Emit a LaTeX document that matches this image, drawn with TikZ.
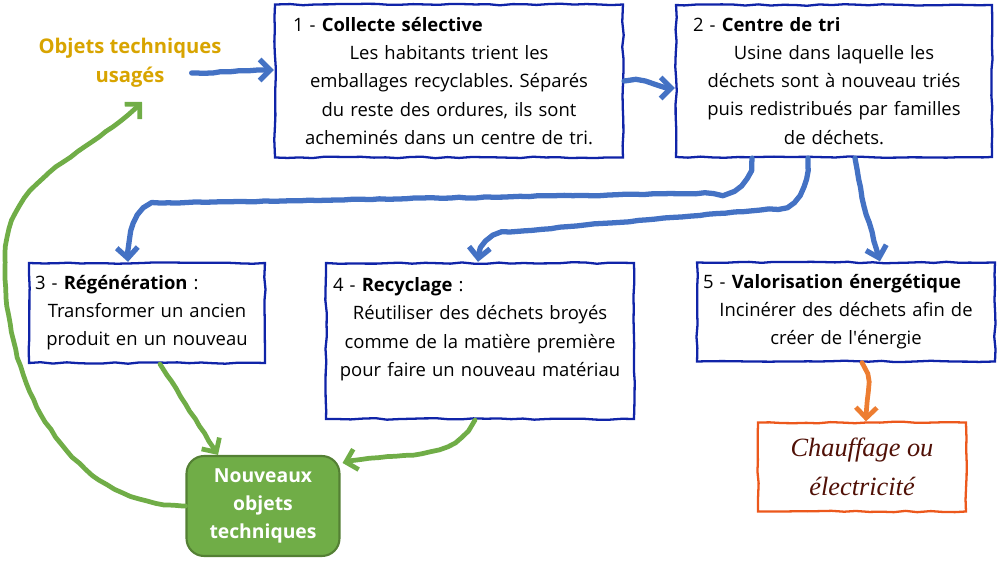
\documentclass[tikz,border=0pt]{standalone}
\usepackage{fontspec}
\setmainfont{Open Sans}
\newfontfamily\manuscrit{Liberation Serif}
\usepackage{xcolor}
\usepackage{tikz}
\usetikzlibrary{arrows.meta,positioning,calc,decorations.pathmorphing}
\definecolor{cadre}{RGB}{16,36,168}
\definecolor{flbleu}{RGB}{68,114,196}
\definecolor{vert}{RGB}{112,173,71}
\definecolor{vertfonce}{RGB}{84,128,52}
\definecolor{florange}{RGB}{237,125,49}
\definecolor{rouille}{RGB}{236,88,28}
\definecolor{ocre}{RGB}{216,164,0}
\definecolor{brun}{RGB}{80,16,6}
\newcommand{\titre}[1]{\makebox[\hsize][l]{#1}}
\frenchspacing

\begin{document}
\begin{tikzpicture}[x=0.02cm,y=-0.02cm,font=\fontsize{10.5}{16}\selectfont]
\pgfmathsetseed{42}
\tikzset{main/.style={decorate,decoration={random steps,segment length=7pt,amplitude=0.45pt}},
  etape/.style={main,draw=cadre,line width=1.3pt,fill=white,align=center,inner ysep=2pt},
  fl/.style={line width=3pt,line cap=round,line join=round,-{Straight Barb[length=6pt,width=12pt]},
    decorate,decoration={random steps,segment length=5pt,amplitude=0.35pt,pre length=2pt,post length=5pt}},
  bleu/.style={fl,flbleu},vertf/.style={fl,vert,line width=2.7pt}}
\useasboundingbox (0,0) rectangle (1000,563);
% les etapes
\node[font=\fontsize{11.5}{16.5}\selectfont\bfseries,text=ocre,align=center] (obj) at (130,63) {Objets techniques\\usagés};
\node[etape,minimum width=6.96cm,minimum height=3.06cm,text width=6.24cm,inner xsep=0.36cm] (c1) at (449,81)
  {\titre{1 - \textbf{Collecte sélective}}\\Les habitants trient les\\emballages recyclables. Séparés\\du reste des ordures, ils sont\\acheminés dans un centre de tri.};
\node[etape,minimum width=6.32cm,minimum height=3.04cm,text width=5.64cm,inner xsep=0.34cm] (c2) at (834,81)
  {\titre{2 - \textbf{Centre de tri}}\\Usine dans laquelle les\\déchets sont à nouveau triés\\puis redistribués par familles\\de déchets.};
\node[etape,minimum width=4.72cm,minimum height=2cm,text width=4.48cm,inner xsep=0.12cm] (r3) at (147,313)
  {\titre{3 - \textbf{Régénération} :}\\Transformer un ancien\\produit en un nouveau};
\node[etape,minimum width=6.16cm,minimum height=3.12cm,text width=5.88cm,inner xsep=0.14cm] (r4) at (480,341)
  {\titre{4 - \textbf{Recyclage} :}\\Réutiliser des déchets broyés\\comme de la matière première\\pour faire un nouveau matériau\\\mbox{}};
\node[etape,minimum width=5.96cm,minimum height=1.98cm,text width=5.72cm,inner xsep=0.12cm] (v5) at (846,312)
  {\titre{5 - \textbf{Valorisation énergétique}}\\Incinérer des déchets afin de\\créer de l\textquotesingle énergie};
\node[etape,draw=rouille,minimum width=4.16cm,minimum height=1.78cm,text=brun,align=center,
  font=\manuscrit\itshape\fontsize{15}{22}\selectfont] (ch) at (862,467) {Chauffage ou\\électricité};
\node[draw=vertfonce,line width=1.2pt,fill=vert,rounded corners=10pt,minimum width=3.06cm,minimum height=2cm,
  text=white,align=center,font=\fontsize{11}{16}\selectfont\bfseries] (nv) at (263,506) {Nouveaux\\objets\\techniques};
% les fleches
\draw[bleu] ($(obj.east)+(-36,10)$) to[out=0,in=180] ($(c1.west)+(0,-11)$);
\draw[bleu] (c1.east) to[out=10,in=180] ($(c2.west)+(0,7)$);
\draw[bleu] ($(c2.south)+(-82,0)$) to[out=-90,in=0] (722,193) -- (160,203) to[out=180,in=90] ($(r3.north)+(-19,0)$);
\draw[bleu] ($(c2.south)+(-26,0)$) to[out=-90,in=0] (778,208) -- (510,232) to[out=180,in=90] ($(r4.north)+(-2,0)$);
\draw[bleu] ($(c2.south)+(21,0)$) -- (862,198) -- ($(v5.north)+(34,0)$);
\draw[fl,florange,line width=2.7pt] ($(v5.south)+(16,0)$) to[out=-60,in=90] ($(ch.north)+(4,0)$);
\draw[vertf] ($(r3.south)+(13,0)$) -- ($(nv.north)+(-45,0)$);
\draw[vertf] ($(r4.south)+(-5,0)$) to[out=-120,in=15] ($(nv.north east)+(2,8)$);
\draw[vertf] (nv.west) to[out=180,in=-92] (5,255) to[out=88,in=-135] ($(obj.south)+(12,8)$);
\end{tikzpicture}
\end{document}
